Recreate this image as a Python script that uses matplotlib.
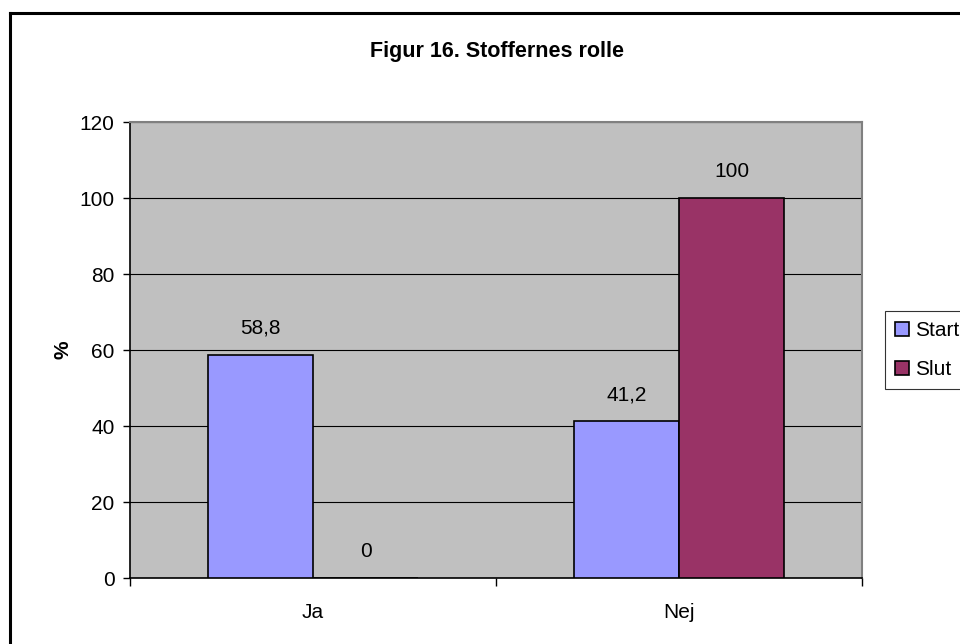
import matplotlib.pyplot as plt
from matplotlib.lines import Line2D
import numpy as np

plt.rcParams['font.family'] = ['Liberation Sans', 'DejaVu Sans']

categories = ['Ja', 'Nej']
start = [58.8, 41.2]
slut = [0, 100]
series_names = ['Start', 'Slut']

fig = plt.figure(figsize=(9.6, 6.44), dpi=100)
ax = fig.add_axes([130/960, 1-578/644, 732/960, 456/644])
ax.set_facecolor('#C0C0C0')

x = np.arange(len(categories))
w = 0.287
b1 = ax.bar(x - w/2, start, w, color='#9999FF', edgecolor='black', linewidth=1.2, label=series_names[0], zorder=3)
b2 = ax.bar(x + w/2, slut, w, color='#993366', edgecolor='black', linewidth=1.2, label=series_names[1], zorder=3)

for bars, vals in [(b1, start), (b2, slut)]:
    for r, v in zip(bars, vals):
        txt = f'{v:g}'.replace('.', ',')
        ax.text(r.get_x() + r.get_width()/2, v + 4.5, txt, ha='center', va='bottom', fontsize=15)

ax.set_xlim(-0.5, 1.5)
ax.set_ylim(0, 120)
ax.set_yticks(range(0, 121, 20))
ax.yaxis.grid(True, color='black', linewidth=0.8, zorder=1)
ax.set_axisbelow(True)

# category labels sit between the boundary ticks
ax.set_xticks([-0.5, 0.5, 1.5])
ax.set_xticklabels([])
ax.set_xticks(x, minor=True)
ax.set_xticklabels(categories, minor=True, fontsize=15)
ax.tick_params(axis='x', which='minor', length=0, pad=18)
ax.tick_params(axis='x', which='major', length=6, width=1, direction='out')
ax.tick_params(axis='y', length=5, width=1, direction='out', labelsize=15, pad=6)

for s in ['left', 'bottom']:
    ax.spines[s].set_color('black')
    ax.spines[s].set_linewidth(1.2)
for s in ['top', 'right']:
    ax.spines[s].set_color('#808080')
    ax.spines[s].set_linewidth(1.5)

ax.set_ylabel('%', fontsize=15, fontweight='bold', labelpad=5)
fig.text(497/960, 1-52/644, 'Figur 16. Stoffernes rolle', ha='center', va='center',
         fontsize=15.5, fontweight='bold')

leg = fig.legend(loc='center left', bbox_to_anchor=(885/960, 1-350/644), frameon=True,
                 fancybox=False, shadow=False, fontsize=15, handlelength=0.65, handleheight=0.65,
                 handletextpad=0.3, borderpad=0.5, labelspacing=0.95, borderaxespad=0)
leg.get_frame().set_edgecolor('black')
leg.get_frame().set_linewidth(0.8)

# outer chart frame
fig.add_artist(Line2D([10/960, 10/960], [0, 1-13/644], transform=fig.transFigure, color='black', linewidth=2.2))
fig.add_artist(Line2D([10/960, 1], [1-13/644, 1-13/644], transform=fig.transFigure, color='black', linewidth=2.2))

fig.savefig('out.png', dpi=100)
